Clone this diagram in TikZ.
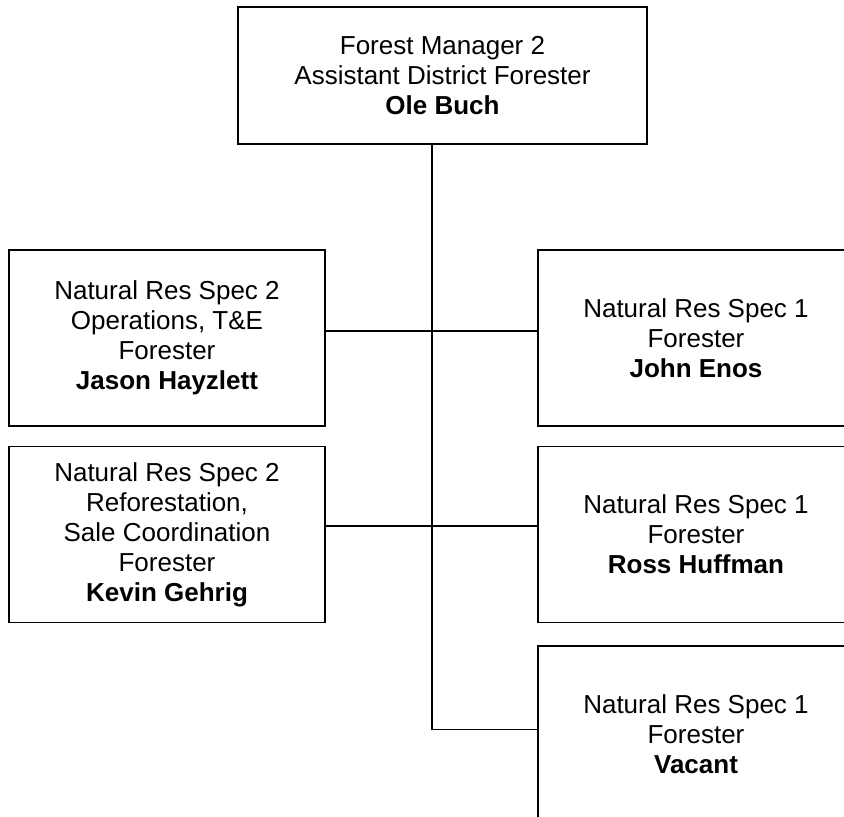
\documentclass[tikz,border=0pt]{standalone}
\usepackage{fontspec}
\setmainfont{Liberation Sans}
\usetikzlibrary{positioning}
\tikzstyle{post}=[rectangle, draw=black, line width=0.9pt, fill=white,
                  inner sep=0pt, align=center,
                  font=\fontsize{19.5}{22.5}\selectfont]
\begin{document}
\begin{tikzpicture}[x=0.75pt,y=-0.75pt,line width=0.9pt]
  \tikzstyle{side}=[post,minimum width=237pt,minimum height=132pt]
  \useasboundingbox (0,0) rectangle (844,817);
  \clip (0,0) rectangle (844,817);
  \node (manager) at (442.5,75.5) [post,minimum width=306.75pt,minimum height=102.75pt] {Forest Manager 2\\Assistant District Forester\\\textbf{Ole Buch}};
  \node (operations) at (167,338) [side] {Natural Res Spec 2\\Operations, T\&E\\Forester\\\textbf{Jason Hayzlett}};
  \node (reforest) at (167,534.5) [side] {Natural Res Spec 2\\Reforestation,\\Sale Coordination\\Forester\\\textbf{Kevin Gehrig}};
  \node (enos) at (696,338) [side] {Natural Res Spec 1\\Forester\\\textbf{John Enos}};
  \node (huffman) at (696,534.5) [side] {Natural Res Spec 1\\Forester\\\textbf{Ross Huffman}};
  \node (vacant) at (696,734) [side] {Natural Res Spec 1\\Forester\\\textbf{Vacant}};
  \coordinate (trunktop) at (432,144);
  \coordinate (firstrow) at (432,331);
  \coordinate (secondrow) at (432,526);
  \coordinate (trunkend) at (432,729.5);
  \draw (trunktop) -- (trunkend);
  \draw (operations.east |- firstrow) -- (enos.west |- firstrow);
  \draw (reforest.east |- secondrow) -- (huffman.west |- secondrow);
  \draw (trunkend) -- (vacant.west |- trunkend);
\end{tikzpicture}
\end{document}
